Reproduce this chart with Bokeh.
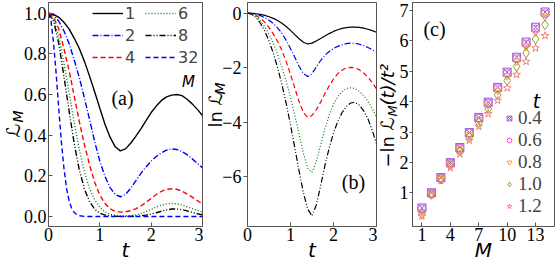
import numpy as np
from bokeh.plotting import figure
from bokeh.models import Range1d, FixedTicker, Label, Legend, LegendItem, Title
from bokeh.layouts import row
from bokeh.embed import file_html
from bokeh.resources import INLINE

# ---------------- data ----------------
t = [0.0, 0.1, 0.2, 0.3, 0.4, 0.5, 0.6, 0.7, 0.8, 0.9, 1.0,
     1.1, 1.2, 1.3, 1.4, 1.5, 1.6, 1.7, 1.8, 1.9, 2.0,
     2.1, 2.2, 2.3, 2.4, 2.5, 2.6, 2.7, 2.8, 2.9, 3.0]

# ln L_M(t)
lnL1 = [0.0, -0.005, -0.02, -0.045, -0.08, -0.13, -0.19, -0.27, -0.37, -0.49, -0.63,
        -0.79, -0.94, -1.07, -1.13, -1.10, -1.02, -0.93, -0.84, -0.75, -0.67,
        -0.61, -0.56, -0.53, -0.515, -0.51, -0.52, -0.55, -0.59, -0.64, -0.70]
lnL2 = [0.0, -0.01, -0.04, -0.09, -0.16, -0.26, -0.38, -0.54, -0.74, -1.00, -1.30,
        -1.62, -1.95, -2.22, -2.33, -2.22, -1.98, -1.74, -1.55, -1.41, -1.30,
        -1.22, -1.16, -1.12, -1.10, -1.11, -1.14, -1.19, -1.26, -1.34, -1.43]
lnL4 = [0.0, -0.02, -0.08, -0.19, -0.33, -0.52, -0.76, -1.04, -1.37, -1.78, -2.25,
        -2.75, -3.25, -3.65, -3.83, -3.76, -3.55, -3.27, -2.96, -2.67, -2.42,
        -2.22, -2.09, -2.01, -1.99, -2.01, -2.08, -2.20, -2.35, -2.55, -2.78]
lnL6 = [0.0, -0.03, -0.12, -0.28, -0.49, -0.77, -1.11, -1.51, -1.98, -2.50, -3.10,
        -3.75, -4.45, -5.15, -5.70, -5.85, -5.45, -4.85, -4.25, -3.75, -3.35,
        -3.07, -2.88, -2.77, -2.74, -2.77, -2.87, -3.03, -3.24, -3.50, -3.82]
lnL8 = [0.0, -0.04, -0.16, -0.37, -0.65, -1.02, -1.47, -2.00, -2.62, -3.32, -4.10,
        -4.95, -5.80, -6.60, -7.20, -7.45, -7.05, -6.35, -5.60, -4.95, -4.40,
        -3.98, -3.65, -3.43, -3.30, -3.28, -3.38, -3.58, -3.88, -4.30, -4.80]

# M = 32
t32 = [0.0, 0.05, 0.1, 0.15, 0.2, 0.25, 0.3, 0.35, 0.4, 0.45, 0.5, 0.55, 0.6,
       0.7, 0.8, 1.0, 1.5, 2.0, 2.5, 3.0]
L32 = [1.0, 0.96, 0.85, 0.70, 0.53, 0.37, 0.24, 0.14, 0.08, 0.04, 0.02, 0.01, 0.004,
       0.001, 0.0, 0.0, 0.0, 0.0, 0.0, 0.0]

# panel (c)
Mvals = [1, 2, 3, 4, 5, 6, 7, 8, 9, 10, 11, 12, 13, 14]
c_t04 = [0.50, 1.00, 1.50, 1.99, 2.49, 2.98, 3.48, 3.98, 4.47, 4.97, 5.46, 5.96, 6.45, 6.95]
c_t06 = [0.47, 0.98, 1.48, 1.97, 2.47, 2.96, 3.45, 3.94, 4.43, 4.92, 5.41, 5.90, 6.39, 6.89]
c_t08 = [0.37, 0.97, 1.46, 1.95, 2.43, 2.90, 3.40, 3.88, 4.37, 4.85, 5.33, 5.82, 6.30, 6.80]
c_t10 = [0.30, 0.95, 1.45, 1.92, 2.39, 2.84, 3.31, 3.76, 4.22, 4.69, 5.16, 5.60, 6.06, 6.53]
c_t12 = [0.23, 0.93, 1.40, 1.82, 2.28, 2.72, 3.18, 3.60, 4.04, 4.45, 4.89, 5.32, 5.76, 6.17]

legend_a = ["1", "2", "4", "6", "8", "32"]
legend_c = ["0.4", "0.6", "0.8", "1.0", "1.2"]

AX = "#555555"
SERIF = "Liberation Serif"
SANS = "DejaVu Sans"


def base(width, left, right, xr, yr, xlabel):
    p = figure(width=width, height=268, x_range=Range1d(*xr), y_range=Range1d(*yr),
               output_backend="svg", toolbar_location=None, title=None,
               min_border_left=left, min_border_right=right,
               min_border_top=2, min_border_bottom=42)
    p.grid.visible = False
    p.outline_line_color = AX
    p.outline_line_width = 1
    p.outline_line_alpha = 1
    for ax in (p.xaxis, p.yaxis):
        ax.axis_line_color = AX
        ax.major_tick_line_color = AX
        ax.minor_tick_line_color = None
        ax.major_label_text_font = SERIF
        ax.major_label_text_font_size = "18px"
        ax.major_label_text_color = "black"
    p.xaxis.major_tick_in = 4
    p.xaxis.major_tick_out = 0
    p.xaxis.major_label_standoff = 1
    p.xaxis.axis_label = xlabel
    p.xaxis.axis_label_text_font = SANS
    p.xaxis.axis_label_text_font_style = "italic"
    p.xaxis.axis_label_text_font_size = "20px"
    p.xaxis.axis_label_text_color = "black"
    p.xaxis.axis_label_standoff = -6
    return p


def lab(p, x, y, text, size, font=SANS, style="normal"):
    p.add_layout(Label(x=x, y=y, x_units="screen", y_units="screen", text=text,
                       text_font=font, text_font_size=f"{size}px",
                       text_font_style=style, text_align="center",
                       text_baseline="middle", text_color="black"))


def ytitle(p, text, size, style, offset, standoff):
    p.add_layout(Title(text=text, align="left", vertical_align="bottom",
                       offset=offset, standoff=standoff, text_font=SANS,
                       text_font_size=f"{size}px", text_font_style=style,
                       text_color="black"), "left")


# ---------------- panel (a) ----------------
pa = base(203, 48, 1, (0, 3), (-0.049, 1.053), "t")
pa.xaxis.ticker = FixedTicker(ticks=[0, 1, 2, 3])
pa.yaxis.ticker = FixedTicker(ticks=[0.0, 0.2, 0.4, 0.6, 0.8, 1.0])
pa.yaxis.major_label_overrides = {0.0: "0.0", 0.2: "0.2", 0.4: "0.4", 0.6: "0.6",
                                  0.8: "0.8", 1.0: "1.0"}
pa.yaxis.major_tick_in = 4
pa.yaxis.major_tick_out = 0
pa.yaxis.major_label_standoff = 2

styles = [
    ("black", "solid"),
    ("#0000ff", "6 2 1 2"),
    ("#ff0000", "5 3"),
    ("#008000", "1 2"),
    ("black", "6 2 1 2 1 2"),
    ("#0000ff", "5 3"),
]
lnsets = [lnL1, lnL2, lnL4, lnL6, lnL8]
ra = []
for ln_, (c, d) in zip(lnsets, styles[:5]):
    ra.append(pa.line(t, np.exp(np.array(ln_)), line_color=c, line_dash=d, line_width=1.4))
ra.append(pa.line(t32, L32, line_color=styles[5][0], line_dash=styles[5][1], line_width=1.4))

leg_a = Legend(items=[LegendItem(label=lbl, renderers=[r]) for lbl, r in zip(legend_a, ra)],
               ncols=2, location=(44, 158), padding=0, margin=0, spacing=0,
               glyph_width=31, glyph_height=22, label_height=22, label_standoff=2,
               label_text_font=SANS, label_text_font_size="16px",
               border_line_color=None, background_fill_alpha=0)
pa.add_layout(leg_a)

lab(pa, 140, 145, "M", 15, style="italic")
lab(pa, 74, 129, "(a)", 20, font=SERIF)
# y label: script L with subscript M (the subscript panel sits nearer the axis)
ytitle(pa, "M", 14, "italic", 104, -10.6)
ytitle(pa, "ℒ", 19, "normal", 89, -20.4)

# ---------------- panel (b) ----------------
pb = base(174, 44, 1, (0, 3), (-7.84, 0.393), "t")
pb.xaxis.ticker = FixedTicker(ticks=[0, 1, 2, 3])
pb.yaxis.ticker = FixedTicker(ticks=[0, -2, -4, -6])
pb.yaxis.major_label_overrides = {0: "0", -2: "−2", -4: "−4", -6: "−6"}
pb.yaxis.major_tick_in = 0
pb.yaxis.major_tick_out = 4
pb.yaxis.major_label_standoff = 2
for ln_, (c, d) in zip(lnsets, styles[:5]):
    pb.line(t, ln_, line_color=c, line_dash=d, line_width=1.2)

lab(pb, 106, 45, "(b)", 20, font=SERIF)
ytitle(pb, "M", 14, "italic", 132, -17.6)
ytitle(pb, "ln ℒ", 18, "normal", 99, -12.8)

# ---------------- panel (c) ----------------
pc = base(178, 35, 1, (0, 15), (-0.11, 7.263), "M")
pc.xaxis.ticker = FixedTicker(ticks=[1, 4, 7, 10, 13])
pc.yaxis.ticker = FixedTicker(ticks=[1, 2, 3, 4, 5, 6, 7])
pc.yaxis.major_tick_in = 0
pc.yaxis.major_tick_out = 3
pc.yaxis.major_label_standoff = 1

cdata = [c_t04, c_t06, c_t08, c_t10, c_t12]
markers = ["square_x", "circle", "inverted_triangle", "diamond", "star"]
mcolors = ["#9955dd", "#dd55dd", "#f5a030", "#999933", "#f08080"]
rc = []
for v, mk, col in zip(cdata, markers, mcolors):
    rc.append(pc.scatter(Mvals, v, marker=mk, size=8 if mk != "diamond" else 10,
                         line_color=col, fill_color=None, line_width=1))

leg_c = Legend(items=[LegendItem(label=lbl, renderers=[r]) for lbl, r in zip(legend_c, rc)],
               location=(91, 9), padding=0, margin=0, spacing=0,
               glyph_width=12, glyph_height=22, label_height=22, label_standoff=3,
               label_text_font=SERIF, label_text_font_size="19px",
               border_line_color=None, background_fill_alpha=0)
pc.add_layout(leg_c)

lab(pc, 124, 126, "t", 19, style="italic")
lab(pc, 22, 198, "(c)", 20, font=SERIF)
ytitle(pc, "M", 13, "italic", 110, -7.5)
ytitle(pc, "−ln ℒ", 18, "normal", 59, -23)
ytitle(pc, "(t)/t²", 18, "italic", 121, -23)

layout = row(pa, pb, pc, spacing=0)
open("out.html", "w").write(file_html(layout, INLINE))
